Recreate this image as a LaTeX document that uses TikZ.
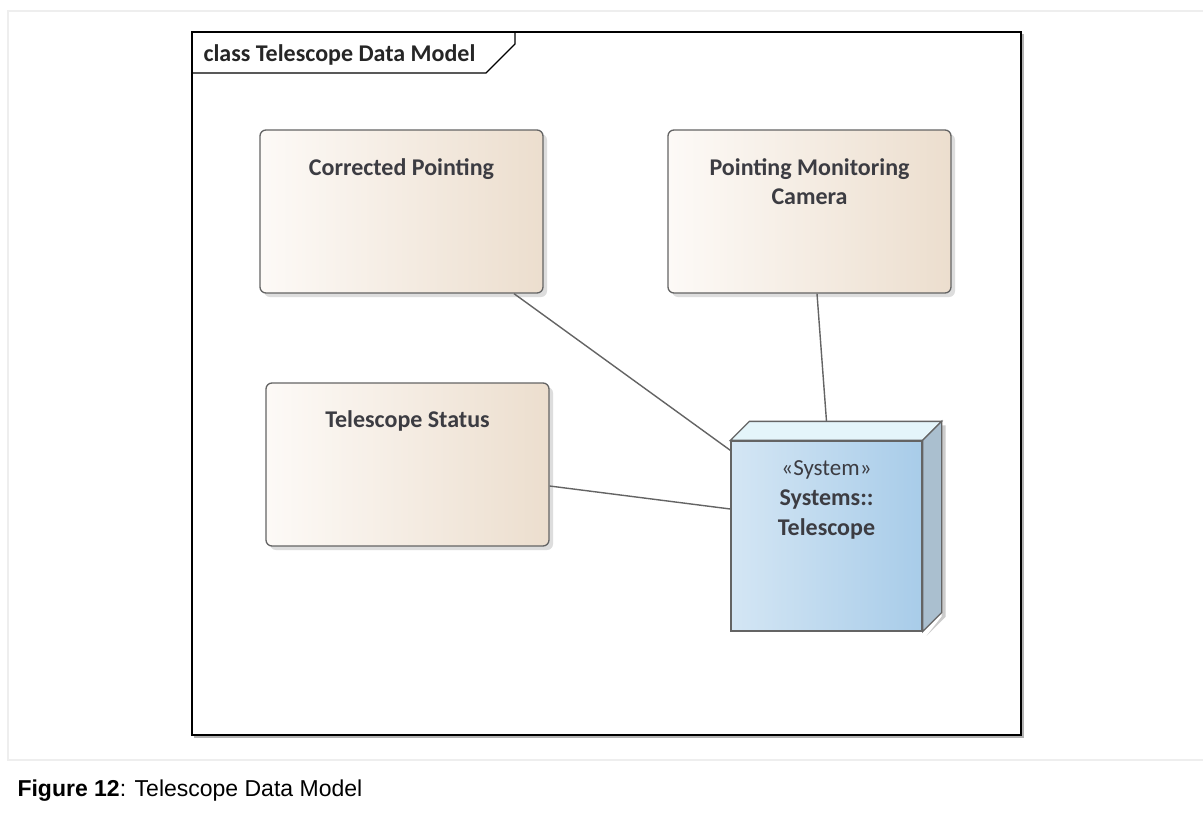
\documentclass[tikz,border=0pt]{standalone}
\usepackage{fontspec}
\setmainfont{Carlito}
\newfontfamily\capfont{Liberation Sans}
\usetikzlibrary{calc,shadows}
\definecolor{eaText}{RGB}{60,60,66}
\definecolor{eaLine}{RGB}{100,100,100}
\definecolor{eaTanL}{RGB}{253,250,247}
\definecolor{eaTanR}{RGB}{236,222,206}
\definecolor{eaBlueL}{RGB}{212,230,244}
\definecolor{eaBlueR}{RGB}{168,204,233}
\definecolor{eaBlueTop}{RGB}{228,245,250}
\definecolor{eaBlueSide}{RGB}{170,191,207}
\definecolor{pageGray}{RGB}{238,238,238}

\begin{document}
\begin{tikzpicture}[x=1pt,y=-1pt,
    entity/.style={draw=eaLine,line width=1.3pt,rounded corners=6pt,
      left color=eaTanL,right color=eaTanR,minimum width=283pt,minimum height=163pt,
      drop shadow={shadow xshift=4pt,shadow yshift=-4pt,fill=black!22,opacity=.6}},
    ename/.style={font=\bfseries\fontsize{24}{29}\selectfont,text=eaText,align=center,anchor=north},
    sysbox/.style={draw=eaLine,line width=1.3pt,left color=eaBlueL,right color=eaBlueR,
      minimum width=191pt,minimum height=190pt},
    assoc/.style={draw=eaLine,line width=1.4pt}
  ]
  \useasboundingbox (0,0) rectangle (1203,814);
  \fill[white] (0,0) rectangle (1203,814);
  % page lines
  \draw[pageGray,line width=1.5pt] (1203,11) -- (8,11) -- (8,760) -- (1203,760);

  % diagram frame
  \draw[black!30,line width=1.5pt] (194,737) -- (1023,737) -- (1023,34);
  \draw[black,line width=1.5pt] (192,32) rectangle (1021,735);
  \draw[black,line width=1.3pt] (192,73) -- (486,73) -- (515,44) -- (515,32);
  \node[font=\bfseries\fontsize{24}{28}\selectfont,text=black!85,anchor=west] (title) at (200,55) {class Telescope Data Model};

  % classes
  \node[entity] (corr) at (401.5,211.5) {};
  \node[ename] (corrname) at ([yshift=-26pt]corr.north) {Corrected Pointing};
  \node[entity] (cam) at (809.5,211.5) {};
  \node[ename] (camname) at ([yshift=-26pt]cam.north) {Pointing Monitoring\\Camera};
  \node[entity] (stat) at (407.5,464.5) {};
  \node[ename] (statname) at ([yshift=-25pt]stat.north) {Telescope Status};

  % system node
  \node[sysbox] (tel) at (826.5,536) {};
  \fill[black!20] ($(tel.north east)+(19pt,15pt)$) -- ($(tel.north east)+(23pt,15pt)$)
    -- ($(tel.south east)+(23pt,15pt)$) -- ($(tel.south east)+(4pt,-4pt)$) -- ($(tel.south east)+(19pt,15pt)$) -- cycle;
  \draw[eaLine,line width=1.3pt,fill=eaBlueTop] (tel.north west) -- ($(tel.north west)+(19pt,19pt)$)
    -- ($(tel.north east)+(19pt,19pt)$) -- (tel.north east) -- cycle;
  \draw[eaLine,line width=1.3pt,fill=eaBlueSide] (tel.north east) -- ($(tel.north east)+(19pt,19pt)$)
    -- ($(tel.south east)+(19pt,19pt)$) -- (tel.south east) -- cycle;
  \node[font=\fontsize{23}{30}\selectfont,text=eaText,align=center,anchor=north] (telname) at ([yshift=-17pt]tel.north)
    {«System»\\\textbf{\fontsize{24}{30}\selectfont Systems::}\\\textbf{\fontsize{24}{30}\selectfont Telescope}};

  % associations
  \draw[assoc] ([xshift=112.5pt]corr.south) -- ([yshift=-10pt]tel.north west);
  \draw[assoc] ([xshift=7.5pt]cam.south) -- ([yshift=19pt]tel.north);
  \draw[assoc] ([yshift=-21.5pt]stat.east) -- ([yshift=27pt]tel.west);

  % caption
  \node[font=\capfont\fontsize{23}{27}\selectfont,anchor=west] (caption) at (14,791) {\textbf{Figure 12}: Telescope Data Model};
\end{tikzpicture}
\end{document}
